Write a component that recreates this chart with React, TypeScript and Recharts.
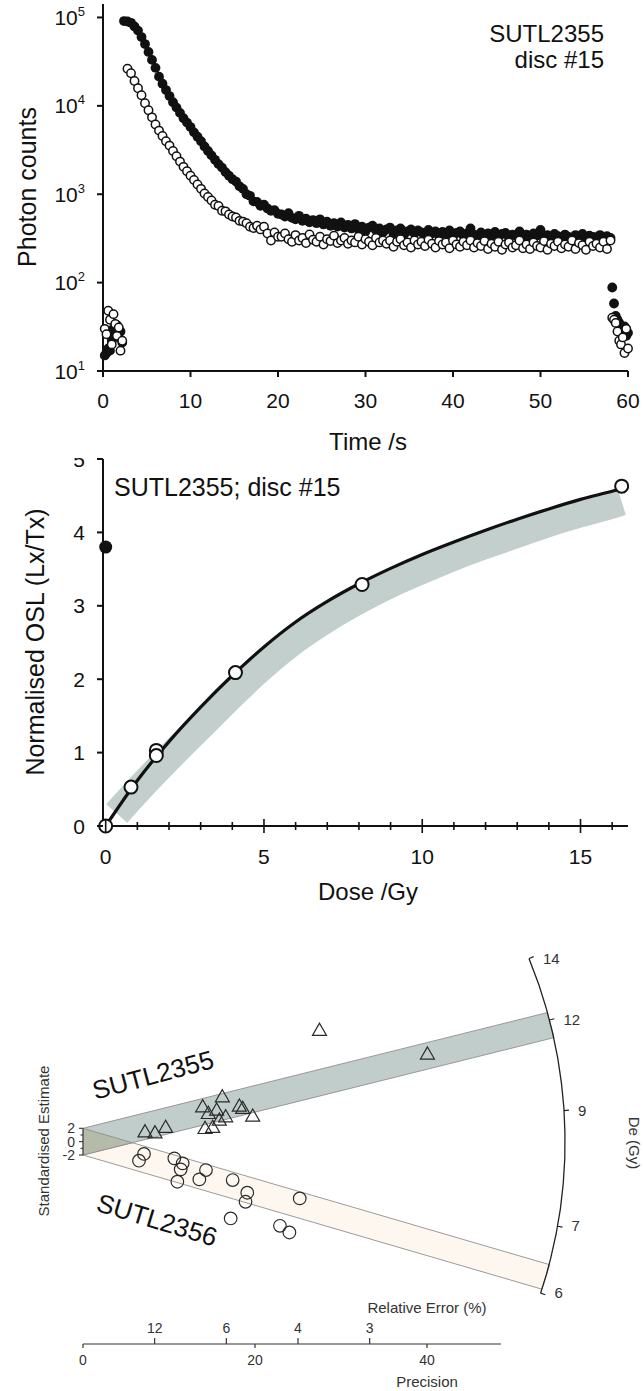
import React from "react";
import { ComposedChart, Scatter, Line, Area, XAxis, YAxis, ReferenceLine } from "recharts";

const FONT = '"Liberation Sans", Arial, Helvetica, sans-serif';
const INK = "#111";

// ---------- panel 1: OSL decay, photon counts per 0.4 s channel ----------
const CHANNEL_S = 0.4;
const LX_START_S = 2.4;
const TX_START_S = 2.8;
const TIME_TICKS = [0, 10, 20, 30, 40, 50, 60];
const COUNT_TICKS = [10, 100, 1000, 10000, 100000];

const PRE_TIMES = [0.2, 0.4, 0.6, 0.8, 1.0, 1.2, 1.4, 1.6, 1.8, 2.0, 2.2];
const PRE_LX = [15, 16, 18, 17, 22, 30, 26, 33, 24, 28, 21];
const PRE_TX = [30, 26, 48, 38, 20, 44, 34, 25, 31, 17, 22];

// natural signal (filled), 2.4 s .. 58.0 s
const LX_COUNTS = [
  91000, 90000, 87000, 79000, 71000, 60000, 50000, 40700, 33100, 26900,
  21400, 17800, 15100, 12900, 11000, 9550, 8320, 7240, 6460, 5750,
  5010, 4470, 3980, 3470, 3090, 2750, 2450, 2190, 2000, 1780,
  1620, 1480, 1390, 1230, 1150, 1000, 960, 830, 820, 740,
  760, 690, 650, 660, 600,
  590, 560, 610, 540, 520, 570, 500, 530, 480, 510,
  470, 520, 455, 490, 440, 470, 430, 480, 420, 450,
  410, 460, 400, 430, 380, 420, 440, 390, 410, 370,
  400, 420, 360, 390, 410, 350, 380, 400, 360, 390,
  370, 340, 395, 360, 380, 345, 375, 355, 390, 340,
  365, 380, 340, 360, 410, 350, 330, 370, 345, 360,
  340, 375, 330, 355, 365, 320, 350, 340, 380, 330,
  350, 325, 360, 340, 395, 330, 345, 315, 355, 335,
  320, 350, 330, 305, 345, 325, 355, 315, 340, 330,
  325, 345, 310, 335, 320,
];

// test-dose signal (open), 2.8 s .. 58.0 s
const TX_COUNTS = [
  26300, 23400, 19100, 15800, 13200, 10700, 8910, 7410, 6170, 5250,
  4570, 3980, 3550, 3090, 2690, 2340, 2040, 1820, 1620, 1450,
  1290, 1150, 1020, 933, 851, 760, 735, 650, 640, 590,
  560, 545, 500, 490, 470, 430, 415, 440, 400, 430,
  360, 300, 370, 330,
  330, 360, 310, 290, 345, 300, 320, 280, 350, 305,
  290, 330, 270, 310, 295, 340, 280, 300, 320, 275,
  300, 285, 330, 270, 310, 290, 265, 320, 285, 300,
  275, 300, 255, 290, 310, 265, 285, 250, 300, 270,
  290, 260, 305, 275, 250, 295, 270, 285, 245, 300,
  270, 255, 290, 265, 300, 250, 280, 260, 295, 240,
  275, 255, 290, 235, 270, 285, 250, 265, 300, 245,
  270, 240, 285, 260, 250, 295, 235, 275, 260, 290,
  245, 270, 255, 300, 240, 280, 265, 235, 290, 260,
  275, 250, 290, 240, 300,
];

const POST_TIMES = [58.2, 58.4, 58.6, 58.8, 59.0, 59.2, 59.4, 59.6, 59.8, 60.0];
const POST_LX = [88, 58, 42, 38, 35, 30, 28, 32, 25, 27];
const POST_TX = [40, 38, 35, 28, 22, 20, 24, 16, 30, 18];

// ---------- panel 2: dose response ----------
const DOSE_TICKS = [0, 1, 2, 3, 4, 5, 6, 7, 8, 9, 10, 11, 12, 13, 14, 15, 16];
const LXTX_TICKS = [0, 1, 2, 3, 4, 5];
const REGEN_DOSE = [0, 0.8, 1.6, 1.6, 4.1, 8.1, 16.3];
const REGEN_LXTX = [0, 0.53, 1.03, 0.96, 2.09, 3.29, 4.63];
const NATURAL_DOSE = [0];
const NATURAL_LXTX = [3.8];
const FIT_DOSE = [0, 1, 2, 3, 4, 5, 6, 7, 8, 9, 10, 11, 12, 13, 14, 15, 16, 16.5];
const FIT_LXTX = [0, 0.62, 1.15, 1.62, 2.05, 2.44, 2.78, 3.06, 3.3, 3.51, 3.7, 3.87, 4.03, 4.18, 4.32, 4.45, 4.56, 4.62];
const ENVELOPE_DOSE = [0.35, 1, 2, 3, 4, 5, 6, 7, 8, 9, 10, 11, 12, 13, 14, 15, 16, 16.3];
const ENVELOPE_LXTX = [0.17, 0.48, 0.93, 1.36, 1.79, 2.19, 2.54, 2.83, 3.08, 3.3, 3.49, 3.67, 3.83, 3.98, 4.13, 4.26, 4.38, 4.42];

// ---------- panel 3: radial plot ----------
const SUTL2355_PREC = [7.21, 8.37, 9.61, 13.92, 16.2, 14.57, 15.54, 16.59, 15.85, 14.19, 15.08, 18.18, 18.57, 19.73, 27.5, 40.05];
const SUTL2355_Z = [1.5, 1.35, 2.16, 5.25, 6.75, 4.25, 4.75, 3.75, 3.25, 2.0, 2.16, 5.35, 5.0, 3.85, 16.7, 13.15];
const SUTL2356_PREC = [7.09, 6.51, 10.62, 11.59, 11.36, 10.97, 14.3, 13.53, 17.4, 19.1, 18.9, 25.2, 17.17, 22.9, 24.0];
const SUTL2356_Z = [-1.84, -2.85, -2.5, -3.25, -4.15, -6.0, -4.25, -5.65, -5.75, -7.65, -9.0, -8.5, -11.5, -12.6, -13.6];

const BAND_2355_X = [0, 54.0, 54.77];
const BAND_2355_LO = [-2, 15.33, 15.58];
const BAND_2355_HI = [2, 19.33, 15.58];
const BAND_2356_X = [0, 53.36, 54.26];
const BAND_2356_LO = [-2, -22.09, -18.43];
const BAND_2356_HI = [2, -18.09, -18.43];
const OVERLAP_X = [0, 5.74];
const OVERLAP_LO = [-2, -0.16];
const OVERLAP_HI = [2, -0.16];

const ARC_PREC = [51.86, 53.0, 53.88, 54.61, 55.2, 55.63, 55.92, 56.04, 56.02, 55.84, 55.51, 55.02, 54.38, 53.88, 53.21];
const ARC_Z = [27.42, 23.53, 19.92, 16.26, 12.55, 8.81, 5.04, 1.26, -2.52, -6.3, -10.06, -13.79, -17.48, -19.92, -22.69];
const DE_LABELS = [14, 12, 9, 7, 6];
const DE_PREC = [51.86, 54.24, 55.93, 55.18, 53.21];
const DE_Z = [27.42, 18.22, 4.66, -12.67, -22.69];
const DE_ANGLE = [22.3, 14.6, 3.7, -10.1, -18.3];

const PRECISION_TICKS = [0, 20, 40];
const REL_ERROR_PCT = [12, 6, 4, 3];
const Z_TICKS = [-2, -1, 0, 1, 2];

// ---------- helpers ----------
const pts = (xs: number[], ys: number[]) => xs.map((x, i) => ({ x, y: ys[i] }));
const channels = (start: number, n: number) =>
  Array.from({ length: n }, (_, i) => Math.round((start + i * CHANNEL_S) * 10) / 10);
const band = (xs: number[], lo: number[], hi: number[]) => xs.map((x, i) => ({ x, band: [lo[i], hi[i]] }));

const LX_POINTS = [
  ...pts(PRE_TIMES, PRE_LX),
  ...pts(channels(LX_START_S, LX_COUNTS.length), LX_COUNTS),
  ...pts(POST_TIMES, POST_LX),
];
const TX_POINTS = [
  ...pts(PRE_TIMES, PRE_TX),
  ...pts(channels(TX_START_S, TX_COUNTS.length), TX_COUNTS),
  ...pts(POST_TIMES, POST_TX),
];

const DE_TICK_POINTS = DE_LABELS.map((label, i) => ({ x: DE_PREC[i], y: DE_Z[i], label, deg: DE_ANGLE[i] }));
const PREC_AXIS_TICKS = [...PRECISION_TICKS, ...REL_ERROR_PCT.map((r) => 100 / r)].sort((a, b) => a - b);

function Txt({ x, y, size, children, anchor = "middle", rotate = 0, color = INK }: any) {
  const tx = anchor === "start" ? "0" : anchor === "end" ? "-100%" : "-50%";
  return (
    <div
      style={{
        position: "absolute", left: x, top: y, fontSize: size, fontFamily: FONT, lineHeight: 1,
        whiteSpace: "nowrap", color, transform: `translate(${tx},-50%) rotate(${rotate}deg)`,
      }}
    >
      {children}
    </div>
  );
}

// ---------- tick renderers ----------
const timeTick = (p: any) => (
  <g>
    <line x1={p.x} x2={p.x} y1={p.y} y2={p.y + 6} stroke={INK} strokeWidth={2} />
    <text x={p.x} y={p.y + 37} textAnchor="middle" fontSize={21} fontFamily={FONT} fill={INK}>{p.payload.value}</text>
  </g>
);

const powerTick = (p: any) => (
  <g>
    <line x1={p.x - 6} x2={p.x} y1={p.y} y2={p.y} stroke={INK} strokeWidth={2} />
    <text x={p.x - 18} y={p.y + 7.5} textAnchor="end" fontSize={21} fontFamily={FONT} fill={INK}>
      10<tspan dy={-9} fontSize={13}>{Math.round(Math.log10(p.payload.value))}</tspan>
    </text>
  </g>
);

const doseTick = (p: any) => {
  const v = p.payload.value;
  const major = v % 5 === 0;
  const h = major ? 7 : 4;
  return (
    <g>
      <line x1={p.x} x2={p.x} y1={p.y - h} y2={p.y + h} stroke={INK} strokeWidth={1.6} />
      {major && (
        <text x={p.x} y={p.y + 38} textAnchor="middle" fontSize={21} fontFamily={FONT} fill={INK}>{v}</text>
      )}
    </g>
  );
};

const doseTopTick = (p: any) => {
  const h = p.payload.value % 5 === 0 ? 7 : 5;
  return <line x1={p.x} x2={p.x} y1={p.y} y2={p.y + h} stroke={INK} strokeWidth={1.6} />;
};

const lxTick = (p: any) => (
  <g>
    <line x1={p.x - 6} x2={p.x} y1={p.y} y2={p.y} stroke={INK} strokeWidth={2} />
    <text x={p.x - 18} y={p.y + 7.5} textAnchor="end" fontSize={21} fontFamily={FONT} fill={INK}>{p.payload.value}</text>
  </g>
);

const precTick = (p: any) => {
  const v = p.payload.value;
  if (PRECISION_TICKS.includes(v)) {
    return (
      <g>
        <line x1={p.x} x2={p.x} y1={p.y} y2={p.y + 4} stroke="#333" strokeWidth={1.2} />
        <text x={p.x} y={p.y + 21} textAnchor="middle" fontSize={14} fontFamily={FONT} fill="#333">{v}</text>
      </g>
    );
  }
  return (
    <g>
      <line x1={p.x} x2={p.x} y1={p.y} y2={p.y - 6} stroke="#333" strokeWidth={1.2} />
      <text x={p.x} y={p.y - 11} textAnchor="middle" fontSize={14} fontFamily={FONT} fill="#333">{Math.round(100 / v)}</text>
    </g>
  );
};

const zTick = (p: any) => {
  const v = p.payload.value;
  const even = v % 2 === 0;
  return (
    <g>
      <line x1={p.x - (even ? 4 : 2.5)} x2={p.x} y1={p.y} y2={p.y} stroke="#333" strokeWidth={1.1} />
      {even && (
        <text x={p.x - 8} y={p.y + 5} textAnchor="end" fontSize={14} fontFamily={FONT} fill="#333">{v}</text>
      )}
    </g>
  );
};

// ---------- marker shapes ----------
const filledDot = (p: any) => <circle cx={p.cx} cy={p.cy} r={4.9} fill={INK} />;
const openDot = (p: any) => <circle cx={p.cx} cy={p.cy} r={4.2} fill="#fff" stroke={INK} strokeWidth={1.5} />;
const bigOpen = (p: any) => <circle cx={p.cx} cy={p.cy} r={6.5} fill="#fff" stroke={INK} strokeWidth={2} />;
const bigFilled = (p: any) => <circle cx={p.cx} cy={p.cy} r={6.5} fill={INK} />;
const triangle = (p: any) => (
  <polygon
    points={`${p.cx},${p.cy - 7} ${p.cx - 7},${p.cy + 5.2} ${p.cx + 7},${p.cy + 5.2}`}
    fill="none" stroke="#2a2a2a" strokeWidth={1.2}
  />
);
const ring = (p: any) => <circle cx={p.cx} cy={p.cy} r={6.3} fill="none" stroke="#2a2a2a" strokeWidth={1.2} />;
const deTick = (p: any) => {
  const a = (p.payload.deg * Math.PI) / 180;
  return (
    <g>
      <line x1={p.cx} y1={p.cy} x2={p.cx + 5 * Math.cos(a)} y2={p.cy - 5 * Math.sin(a)} stroke="#222" strokeWidth={1.2} />
      <text x={p.cx + 14} y={p.cy + 5} textAnchor="start" fontSize={15} fontFamily={FONT} fill="#333">{p.payload.label}</text>
    </g>
  );
};

const frameLine = { stroke: INK, strokeWidth: 2 };

function DecayPanel() {
  return (
    <ComposedChart width={643} height={440} margin={{ top: 4, right: 15, bottom: 0, left: 0 }}>
      <XAxis type="number" dataKey="x" domain={[0, 60]} ticks={TIME_TICKS} interval={0} height={69}
        tickSize={0} tickMargin={0} tickLine={false} axisLine={frameLine} tick={timeTick} />
      <XAxis xAxisId="frame" orientation="top" type="number" domain={[0, 60]} height={0}
        tick={false} tickLine={false} axisLine={frameLine} />
      <YAxis type="number" dataKey="y" scale="log" domain={[10, 142000]} ticks={COUNT_TICKS} interval={0} width={103}
        tickSize={0} tickMargin={0} tickLine={false} axisLine={frameLine} tick={powerTick} />
      <YAxis yAxisId="frame" orientation="right" type="number" domain={[0, 1]} width={0}
        tick={false} tickLine={false} axisLine={frameLine} />
      <Scatter data={LX_POINTS} dataKey="y" shape={filledDot} isAnimationActive={false} />
      <Scatter data={TX_POINTS} dataKey="y" shape={openDot} isAnimationActive={false} />
    </ComposedChart>
  );
}

function DosePanel() {
  return (
    <ComposedChart width={643} height={472} margin={{ top: 19, right: 15, bottom: 0, left: 0 }}>
      <XAxis type="number" dataKey="x" domain={[-0.085, 16.5]} ticks={DOSE_TICKS} interval={0} height={86}
        tickSize={0} tickMargin={0} tickLine={false} axisLine={frameLine} tick={doseTick} />
      <XAxis xAxisId="frame" orientation="top" type="number" domain={[-0.085, 16.5]} ticks={DOSE_TICKS} interval={0}
        height={0} tickSize={0} tickMargin={0} tickLine={false} axisLine={frameLine} tick={doseTopTick} />
      <YAxis type="number" dataKey="y" domain={[0, 5]} ticks={LXTX_TICKS} interval={0} width={103}
        tickSize={0} tickMargin={0} tickLine={false} axisLine={frameLine} tick={lxTick} />
      <YAxis yAxisId="frame" orientation="right" type="number" domain={[0, 1]} width={0}
        tick={false} tickLine={false} axisLine={frameLine} />
      <Line data={pts(ENVELOPE_DOSE, ENVELOPE_LXTX)} dataKey="y" type="monotone" stroke="#c3cfcd" strokeWidth={28}
        strokeLinecap="butt" dot={false} activeDot={false} isAnimationActive={false} />
      <Line data={pts(FIT_DOSE, FIT_LXTX)} dataKey="y" type="monotone" stroke={INK} strokeWidth={3.2}
        dot={false} activeDot={false} isAnimationActive={false} />
      <Scatter data={pts(NATURAL_DOSE, NATURAL_LXTX)} dataKey="y" shape={bigFilled} isAnimationActive={false} />
      <Scatter data={pts(REGEN_DOSE, REGEN_LXTX)} dataKey="y" shape={bigOpen} isAnimationActive={false} />
    </ComposedChart>
  );
}

function RadialPanel() {
  return (
    <ComposedChart width={643} height={451} margin={{ top: 10, right: 44, bottom: 0, left: 0 }}>
      <XAxis type="number" dataKey="x" domain={[0, 60]} ticks={PREC_AXIS_TICKS} interval={0} height={47}
        tickSize={0} tickMargin={0} tickLine={false} axisLine={false} tick={precTick} />
      <YAxis type="number" dataKey="y" domain={[-30.3, 28.7]} ticks={Z_TICKS} interval={0} width={83}
        tickSize={0} tickMargin={0} tickLine={false} axisLine={false} tick={zTick} />
      <Area data={band(BAND_2356_X, BAND_2356_LO, BAND_2356_HI)} dataKey="band" type="linear"
        fill="#fdf7f0" fillOpacity={1} stroke="#8e8e8e" strokeWidth={0.9} dot={false} activeDot={false} isAnimationActive={false} />
      <Area data={band(BAND_2355_X, BAND_2355_LO, BAND_2355_HI)} dataKey="band" type="linear"
        fill="#c1cdcb" fillOpacity={1} stroke="#8e8e8e" strokeWidth={0.9} dot={false} activeDot={false} isAnimationActive={false} />
      <Area data={band(OVERLAP_X, OVERLAP_LO, OVERLAP_HI)} dataKey="band" type="linear"
        fill="#b4bca9" fillOpacity={1} stroke="#8e8e8e" strokeWidth={0.9} dot={false} activeDot={false} isAnimationActive={false} />
      <ReferenceLine segment={[{ x: 0, y: -2 }, { x: 0, y: 2 }]} stroke="#333" strokeWidth={1.2} ifOverflow="visible" />
      <ReferenceLine segment={[{ x: 0, y: -30.3 }, { x: 48.6, y: -30.3 }]} stroke="#333" strokeWidth={1.2} ifOverflow="visible" />
      <Line data={pts(ARC_PREC, ARC_Z)} dataKey="y" type="linear" stroke="#222" strokeWidth={1.3}
        dot={false} activeDot={false} isAnimationActive={false} />
      <Scatter data={DE_TICK_POINTS} dataKey="y" shape={deTick} isAnimationActive={false} />
      <Scatter data={pts(SUTL2355_PREC, SUTL2355_Z)} dataKey="y" shape={triangle} isAnimationActive={false} />
      <Scatter data={pts(SUTL2356_PREC, SUTL2356_Z)} dataKey="y" shape={ring} isAnimationActive={false} />
    </ComposedChart>
  );
}

export default function App() {
  return (
    <div style={{ position: "absolute", left: 0, top: 0, width: 643, height: 1391, background: "#fff", overflow: "hidden" }}>
      <div style={{ position: "absolute", left: 0, top: 0 }}>
        <DecayPanel />
      </div>
      <Txt x={27} y={187} size={25} rotate={-90}>Photon counts</Txt>
      <Txt x={604} y={34} size={24} anchor="end">SUTL2355</Txt>
      <Txt x={604} y={60} size={24} anchor="end">disc #15</Txt>
      <Txt x={368} y={442} size={24}>Time /s</Txt>

      <div style={{ position: "absolute", left: 0, top: 458, width: 643, height: 464, overflow: "hidden" }}>
        <div style={{ position: "absolute", left: 0, top: -18 }}>
          <DosePanel />
        </div>
      </div>
      <Txt x={35} y={642} size={25} rotate={-90}>Normalised OSL (Lx/Tx)</Txt>
      <Txt x={114} y={487} size={25} anchor="start">SUTL2355; disc #15</Txt>
      <Txt x={368} y={892} size={24}>Dose /Gy</Txt>

      <div style={{ position: "absolute", left: 0, top: 940 }}>
        <RadialPanel />
      </div>
      <Txt x={43} y={1141} size={15} rotate={-90} color="#333">Standardised Estimate</Txt>
      <Txt x={153} y={1075} size={26} rotate={-15}>SUTL2355</Txt>
      <Txt x={157} y={1220} size={26} rotate={17}>SUTL2356</Txt>
      <Txt x={634} y={1143} size={15} rotate={90} color="#333">De (Gy)</Txt>
      <Txt x={427} y={1307} size={15} color="#333">Relative Error (%)</Txt>
      <Txt x={427} y={1381} size={15} color="#333">Precision</Txt>
    </div>
  );
}
